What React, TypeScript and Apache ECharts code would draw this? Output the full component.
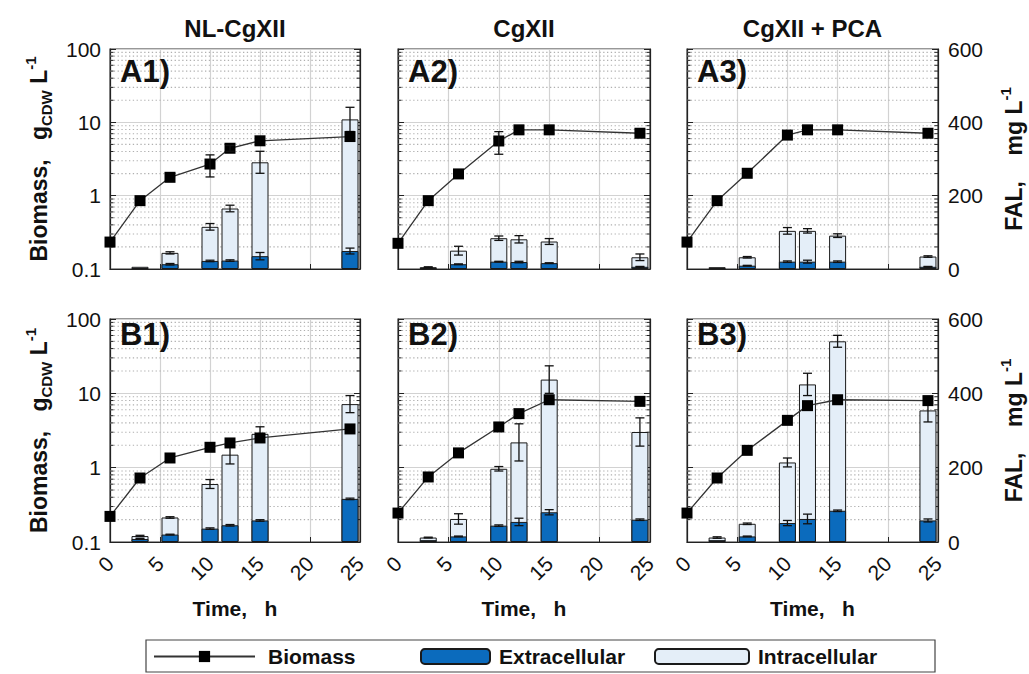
import React, { useEffect, useRef } from 'react';
import * as echarts from 'echarts';

// ---------- data ----------
const sampleTimes = [0, 3, 6, 10, 12, 15, 24];
const falTimes = [3, 6, 10, 12, 15, 24];
const columnTitles = ['NL-CgXII', 'CgXII', 'CgXII + PCA'];
const panelLabels = ['A1)', 'A2)', 'A3)', 'B1)', 'B2)', 'B3)'];
const minorDecades = [0.1, 1, 10];
const minorMultipliers = [2, 3, 4, 5, 6, 7, 8, 9];

// Biomass, g_CDW/L (log axis)
const biomassA1 = [0.233, 0.855, 1.78, 2.7, 4.43, 5.6, 6.4];
const biomassA2 = [0.224, 0.855, 1.98, 5.57, 7.9, 7.9, 7.1];
const biomassA3 = [0.233, 0.855, 2.02, 6.7, 7.9, 7.9, 7.1];
const biomassB1 = [0.221, 0.726, 1.35, 1.88, 2.15, 2.51, 3.32];
const biomassB2 = [0.245, 0.75, 1.58, 3.53, 5.33, 8.2, 7.8];
const biomassB3 = [0.245, 0.726, 1.71, 4.33, 6.83, 8.2, 7.98];

const biomassErrA1 = [0, 0, 0, 0.9, 0.4, 0, 0];
const biomassErrA2 = [0, 0, 0, 1.9, 0, 0, 0];
const biomassErrA3 = [0, 0, 0, 0, 0, 0, 0];
const biomassErrB1 = [0, 0, 0, 0, 0, 0, 0];
const biomassErrB2 = [0, 0, 0, 0, 0, 0, 0];
const biomassErrB3 = [0, 0, 0, 0, 0, 0, 0];

// FAL total (extracellular + intracellular), mg/L
const totalA1 = [6, 44, 115, 165, 291, 408];
const totalA2 = [5, 50, 84, 81, 75, 32];
const totalA3 = [5, 32, 104, 104, 91, 34];
const totalB1 = [16, 66, 156, 235, 291, 371];
const totalB2 = [12, 62, 197, 268, 437, 296];
const totalB3 = [12, 49, 214, 424, 540, 354];

const totalErrA1 = [0, 3, 9, 9, 30, 33];
const totalErrA2 = [1, 12, 6, 10, 8, 9];
const totalErrA3 = [0, 2, 9, 6, 5, 2];
const totalErrB1 = [2, 2, 12, 25, 19, 23];
const totalErrB2 = [1, 14, 6, 50, 37, 38];
const totalErrB3 = [2, 2, 12, 30, 16, 31];

// FAL extracellular, mg/L
const extraA1 = [2, 13, 22, 23, 35, 49];
const extraA2 = [2, 13, 20, 19, 16, 6];
const extraA3 = [2, 9, 20, 20, 20, 6];
const extraB1 = [8, 20, 36, 45, 58, 116];
const extraB2 = [5, 15, 44, 54, 80, 60];
const extraB3 = [5, 15, 51, 62, 84, 58];

const extraErrA1 = [0, 2, 2, 2, 10, 8];
const extraErrA2 = [0, 1, 1, 2, 1, 1];
const extraErrA3 = [0, 1, 2, 4, 2, 1];
const extraErrB1 = [1, 1, 2, 2, 2, 2];
const extraErrB2 = [0, 1, 2, 10, 7, 2];
const extraErrB3 = [0, 1, 7, 13, 2, 4];

const panels = [
  { biomass: biomassA1, biomassErr: biomassErrA1, total: totalA1, totalErr: totalErrA1, extra: extraA1, extraErr: extraErrA1 },
  { biomass: biomassA2, biomassErr: biomassErrA2, total: totalA2, totalErr: totalErrA2, extra: extraA2, extraErr: extraErrA2 },
  { biomass: biomassA3, biomassErr: biomassErrA3, total: totalA3, totalErr: totalErrA3, extra: extraA3, extraErr: extraErrA3 },
  { biomass: biomassB1, biomassErr: biomassErrB1, total: totalB1, totalErr: totalErrB1, extra: extraB1, extraErr: extraErrB1 },
  { biomass: biomassB2, biomassErr: biomassErrB2, total: totalB2, totalErr: totalErrB2, extra: extraB2, extraErr: extraErrB2 },
  { biomass: biomassB3, biomassErr: biomassErrB3, total: totalB3, totalErr: totalErrB3, extra: extraB3, extraErr: extraErrB3 },
];

// ---------- layout / style ----------
const FONT = "'Liberation Sans', Arial, Helvetica, sans-serif";
const EXTRA_COLOR = '#0b6bbd';
const INTRA_COLOR = '#e4eef8';
const colLeft = [110, 398, 687];
const colWidth = [250, 252, 251];
const rowTop = [49, 319];
const rowHeight = [220, 223];

const minorLogTicks: number[] = [];
minorDecades.forEach((d) => minorMultipliers.forEach((m) => minorLogTicks.push(Number((d * m).toPrecision(3)))));

function errRender(params: any, api: any) {
  const x = api.value(0);
  const v = api.value(1);
  const e = api.value(2);
  if (!e || e <= 0) return null;
  const lo = Math.max(v - e, 1e-6);
  const top = api.coord([x, v + e]);
  const bot = api.coord([x, lo]);
  const hc = 4.5;
  const st = { stroke: '#111', lineWidth: 1.3 };
  return {
    type: 'group',
    children: [
      { type: 'line', shape: { x1: top[0], y1: top[1], x2: bot[0], y2: bot[1] }, style: st },
      { type: 'line', shape: { x1: top[0] - hc, y1: top[1], x2: top[0] + hc, y2: top[1] }, style: st },
      { type: 'line', shape: { x1: bot[0] - hc, y1: bot[1], x2: bot[0] + hc, y2: bot[1] }, style: st },
    ],
  };
}

function minorRender(params: any, api: any) {
  const v = api.value(1);
  const a = api.coord([0, v]);
  const b = api.coord([25, v]);
  return {
    type: 'group',
    children: [
      { type: 'line', shape: { x1: a[0], y1: a[1], x2: b[0], y2: b[1] }, style: { stroke: '#b0b0b0', lineWidth: 1.1, lineDash: [1.3, 2.5] } },
      { type: 'line', shape: { x1: a[0], y1: a[1], x2: a[0] + 3.5, y2: a[1] }, style: { stroke: '#222', lineWidth: 1 } },
      { type: 'line', shape: { x1: b[0] - 3.5, y1: b[1], x2: b[0], y2: b[1] }, style: { stroke: '#222', lineWidth: 1 } },
    ],
  };
}

function buildOption() {
  const grid: any[] = [];
  const xAxis: any[] = [];
  const yAxis: any[] = [];
  const series: any[] = [];
  const graphic: any[] = [];

  const leftName = '{b|Biomass,   g}{sub|CDW}{b| L}{sup|-1}';
  const rightName = '{b|FAL,    mg L}{sup|-1}';
  const nameStyle = {
    fontFamily: FONT,
    fontWeight: 'bold',
    fontSize: 23,
    color: '#111',
    rich: {
      b: { fontFamily: FONT, fontWeight: 'bold', fontSize: 23, color: '#111', lineHeight: 31 },
      sub: { fontFamily: FONT, fontWeight: 'bold', fontSize: 15, color: '#111', verticalAlign: 'bottom' },
      sup: { fontFamily: FONT, fontWeight: 'bold', fontSize: 15, color: '#111', verticalAlign: 'top' },
    },
  };
  const labelStyle = { fontFamily: FONT, fontSize: 21, color: '#111' };

  panels.forEach((p, i) => {
    const row = Math.floor(i / 3);
    const col = i % 3;
    grid.push({
      left: colLeft[col], top: rowTop[row], width: colWidth[col], height: rowHeight[row],
      show: true, borderColor: '#333', borderWidth: 1.2, backgroundColor: 'transparent',
    });
    xAxis.push({
      type: 'value', gridIndex: i, min: 0, max: 25, interval: 5,
      axisLine: { onZero: false, lineStyle: { color: '#222', width: 1.2 } },
      axisTick: { inside: true, length: 5, lineStyle: { color: '#222' } },
      axisLabel: { show: row === 1, rotate: 45, margin: 18, ...labelStyle },
      splitLine: { show: true, lineStyle: { color: '#d2d2d2', width: 1.2 } },
      name: row === 1 ? 'Time,   h' : '',
      nameLocation: 'middle', nameGap: 56,
      nameTextStyle: { fontFamily: FONT, fontWeight: 'bold', fontSize: 21, color: '#111' },
    });
    yAxis.push({
      type: 'log', logBase: 10, gridIndex: i, min: 0.1, max: 100, position: 'left',
      axisLine: { show: true, onZero: false, lineStyle: { color: '#222', width: 1.2 } },
      axisTick: { show: true, inside: true, length: 6, lineStyle: { color: '#222' } },
      axisLabel: { show: col === 0, margin: 9, ...labelStyle, formatter: (v: number) => String(Number(Number(v).toPrecision(3))) },
      splitLine: { show: true, lineStyle: { color: '#d2d2d2', width: 1.2 } },
      name: col === 0 ? leftName : '',
      nameLocation: 'middle', nameRotate: 90, nameGap: 56,
      nameTextStyle: nameStyle,
    });
    yAxis.push({
      type: 'value', gridIndex: i, min: 0, max: 600, interval: 200, position: 'right',
      axisLine: { show: true, onZero: false, lineStyle: { color: '#222', width: 1.2 } },
      axisTick: { show: true, inside: true, length: 6, lineStyle: { color: '#222' } },
      axisLabel: { show: col === 2, margin: 10, ...labelStyle },
      splitLine: { show: false },
      name: col === 2 ? rightName : '',
      nameLocation: 'middle', nameRotate: 90, nameGap: 60,
      nameTextStyle: nameStyle,
    });

    // minor log grid (dotted) + minor ticks
    series.push({
      type: 'custom', xAxisIndex: i, yAxisIndex: 2 * i, silent: true, z: 1,
      data: minorLogTicks.map((v) => [0, v]), renderItem: minorRender,
    });
    // FAL bars
    series.push({
      name: 'Intracellular', type: 'bar', xAxisIndex: i, yAxisIndex: 2 * i + 1,
      barWidth: 17, barGap: '-100%', z: 2,
      data: falTimes.map((t, k) => [t, p.total[k]]),
      itemStyle: { color: INTRA_COLOR, borderColor: '#1a1a1a', borderWidth: 1 },
    });
    series.push({
      name: 'Extracellular', type: 'bar', xAxisIndex: i, yAxisIndex: 2 * i + 1,
      barWidth: 17, barGap: '-100%', z: 2,
      data: falTimes.map((t, k) => [t, p.extra[k]]),
      itemStyle: { color: EXTRA_COLOR, borderColor: '#1a1a1a', borderWidth: 1 },
    });
    // FAL error bars
    series.push({
      type: 'custom', xAxisIndex: i, yAxisIndex: 2 * i + 1, silent: true, z: 3,
      data: falTimes.map((t, k) => [t, p.total[k], p.totalErr[k]]), renderItem: errRender,
    });
    series.push({
      type: 'custom', xAxisIndex: i, yAxisIndex: 2 * i + 1, silent: true, z: 3,
      data: falTimes.map((t, k) => [t, p.extra[k], p.extraErr[k]]), renderItem: errRender,
    });
    // biomass line
    series.push({
      name: 'Biomass', type: 'line', xAxisIndex: i, yAxisIndex: 2 * i, z: 4,
      data: sampleTimes.map((t, k) => [t, p.biomass[k]]),
      symbol: 'rect', symbolSize: 11,
      itemStyle: { color: '#000' },
      lineStyle: { color: '#333', width: 1.3 },
    });
    series.push({
      type: 'custom', xAxisIndex: i, yAxisIndex: 2 * i, silent: true, z: 5,
      data: sampleTimes.map((t, k) => [t, p.biomass[k], p.biomassErr[k]]), renderItem: errRender,
    });

    graphic.push({
      type: 'text', x: colLeft[col] + 10, y: row === 0 ? 56 : 319, z: 10,
      style: { text: panelLabels[i], font: `bold 31px ${FONT}`, fill: '#111', verticalAlign: 'top' },
    });
  });

  columnTitles.forEach((t, c) => {
    graphic.push({
      type: 'text', x: colLeft[c] + colWidth[c] / 2, y: 28,
      style: { text: t, font: `bold 24px ${FONT}`, fill: '#111', align: 'center', verticalAlign: 'middle' },
    });
  });

  graphic.push({
    type: 'rect', shape: { x: 146, y: 640, width: 789, height: 32 },
    style: { fill: 'none', stroke: '#444', lineWidth: 1.2 }, z: 0,
  });

  const legendText = { fontFamily: FONT, fontWeight: 'bold', fontSize: 21, color: '#111' };
  const legend = [
    { data: ['Biomass'], left: 153, top: 646, padding: 0, itemWidth: 101, itemHeight: 14, selectedMode: false, textStyle: { ...legendText, padding: [0, 0, 0, 8] } },
    { data: ['Extracellular'], left: 420, top: 646, padding: 0, itemWidth: 69, itemHeight: 15, selectedMode: false, textStyle: { ...legendText, padding: [0, 0, 0, 4] } },
    { data: ['Intracellular'], left: 654, top: 646, padding: 0, itemWidth: 94, itemHeight: 15, selectedMode: false, textStyle: { ...legendText, padding: [0, 0, 0, 4] } },
  ];

  return {
    animation: false,
    backgroundColor: '#fff',
    grid, xAxis, yAxis, series, graphic, legend,
  };
}

export default function App() {
  const ref = useRef<HTMLDivElement>(null);
  useEffect(() => {
    document.body.style.margin = '0';
    if (!ref.current) return;
    const chart = echarts.init(ref.current, undefined, { renderer: 'svg' });
    chart.setOption(buildOption() as any);
    return () => chart.dispose();
  }, []);
  return <div ref={ref} style={{ width: 1029, height: 674 }} />;
}
